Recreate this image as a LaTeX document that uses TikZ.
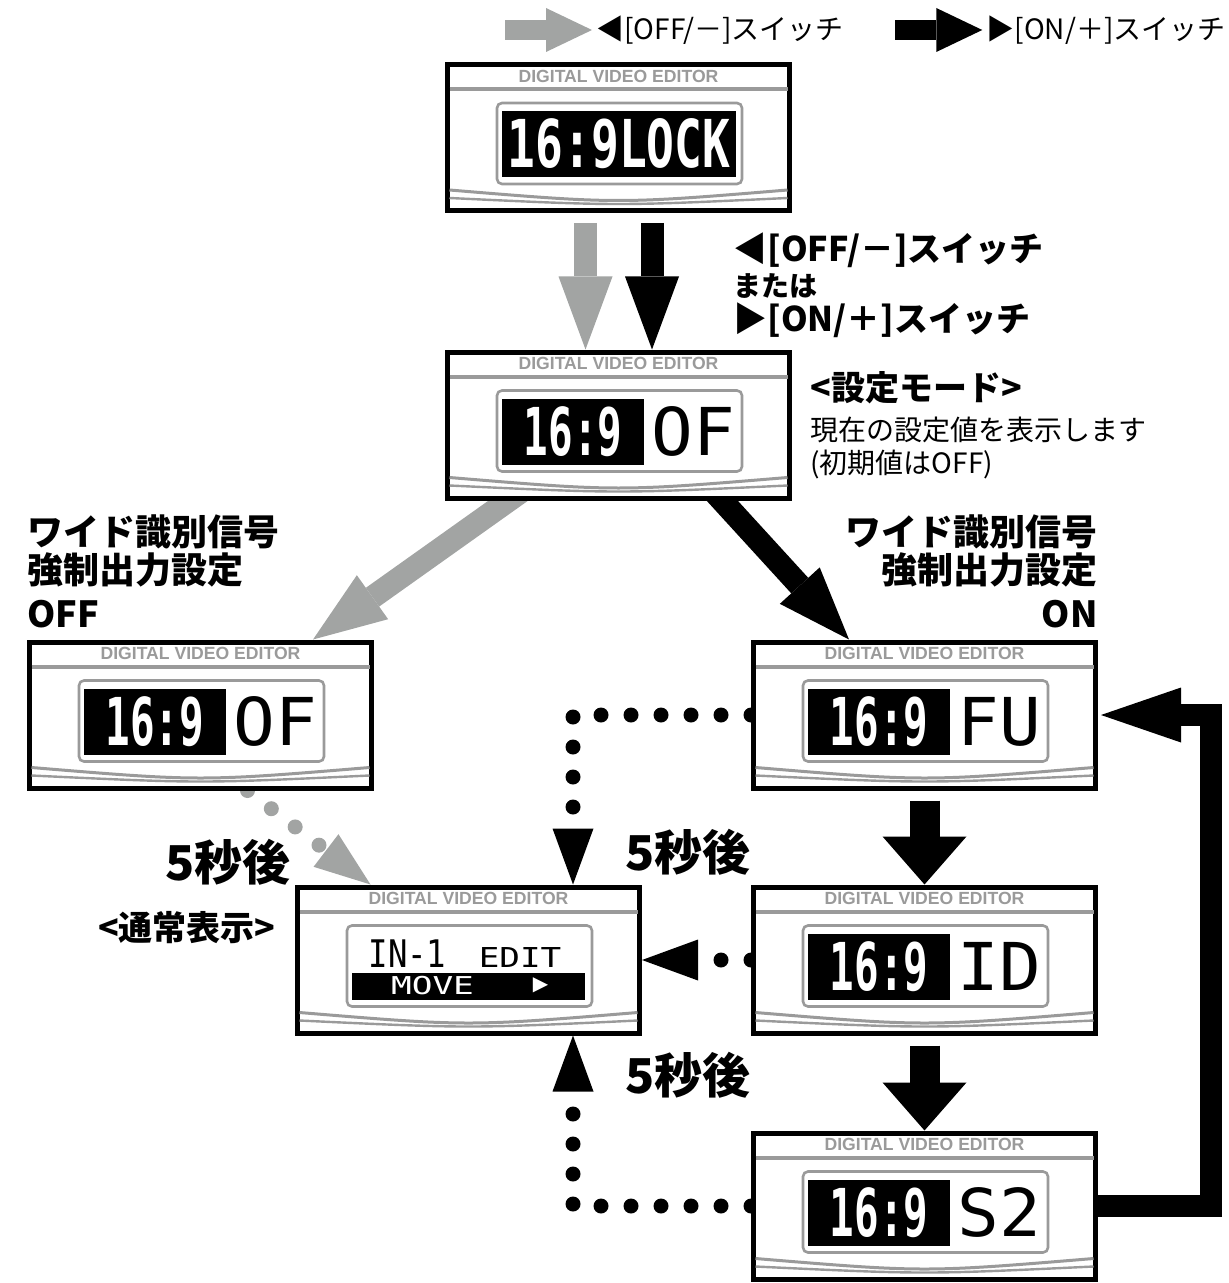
\documentclass[tikz,border=0pt]{standalone}
\usepackage{fontspec}
\usepackage{graphicx}
\setmainfont{Noto Sans CJK JP}
\newfontfamily\lcdfont{DejaVu Sans Mono}
\newfontfamily\brandfont{Liberation Sans}
\newfontfamily\symfont{DejaVu Sans}
\usepackage{tikz}
\usetikzlibrary{positioning,arrows.meta,calc}
\usepackage{xcolor}
\definecolor{ArrowGray}{HTML}{A2A4A3}
\definecolor{PanelGray}{HTML}{9A9A9A}
\pgfdeclarelayer{background}
\pgfsetlayers{background,main}

\tikzset{
  panelbox/.style={draw,line width=2.5pt,fill=white,minimum width=171pt,minimum height=73pt,inner sep=0pt},
  brand/.style={text=PanelGray,inner sep=0pt,font=\brandfont\bfseries\fontsize{8.8}{8.8}\selectfont},
  lcdinv/.style={fill=black,text=white,inner sep=0pt,minimum width=71pt,minimum height=33pt,font=\lcdfont\bfseries\fontsize{33}{33}\selectfont},
  lcdtext/.style={inner sep=0pt,font=\lcdfont\fontsize{33}{33}\selectfont},
  legend/.style={inner sep=0pt,font=\fontsize{14}{14}\selectfont},
  boldlabel/.style={inner sep=0pt,font=\bfseries\fontsize{17}{17.5}\selectfont},
  bigbold/.style={inner sep=0pt,font=\bfseries\fontsize{18}{19}\selectfont},
  delay/.style={inner sep=0pt,font=\bfseries\fontsize{24}{24}\selectfont},
  note/.style={inner sep=0pt,align=left,font=\fontsize{14}{16.5}\selectfont},
  legendgray/.style={ArrowGray,line width=10pt,-{Triangle[length=23pt,width=22pt,line width=0pt]}},
  legendblack/.style={black,line width=10pt,-{Triangle[length=23pt,width=22pt,line width=0pt]}},
  grayflow/.style={ArrowGray,line width=11.5pt,-{Triangle[length=36.5pt,width=27pt,line width=0pt]}},
  blackflow/.style={black,line width=11.5pt,-{Triangle[length=36.5pt,width=27pt,line width=0pt]}},
  stepflow/.style={black,line width=15pt,-{Triangle[length=24pt,width=42pt,line width=0pt]}},
  loopflow/.style={black,line width=11pt,line join=miter,-{Triangle[length=40pt,width=27.5pt,line width=0pt]}},
  dotflow/.style={line width=7.5pt,line cap=round,dash pattern=on 0pt off 15pt,-{Triangle[length=28pt,width=20.5pt,line width=0pt]}},
}

% one editor panel: frame, brand line, window, bottom rims
\newcommand{\dvepanel}[2]{%
  \node[panelbox] (#1) at (#2) {};
  \begin{scope}[shift={(#1.center)}]
    \node[brand] (#1-brand) at (0,-61.5) {DIGITAL VIDEO EDITOR};
    \draw[PanelGray,line width=2pt] (-169,-48.5) -- (169,-48.5);
    \draw[PanelGray,line width=1.3pt,rounded corners=2.5pt] (-121.5,-34.5) rectangle (123.5,46.5);
    \draw[PanelGray,line width=1.5pt] (-169,52.5) .. controls (0,66.5) .. (169,52.5);
    \draw[PanelGray,line width=1.2pt] (-169,60.5) .. controls (0,68.5) .. (169,60.5);
  \end{scope}}
% 16:9 readout with a value
\newcommand{\ratiolcd}[2]{%
  \node[lcdinv] (#1-ratio) at ($(#1)+(-45.5,6.5)$) {\scalebox{0.62}[1]{16:9}};
  \node[lcdtext] (#1-value) at ($(#1)+(74.5,6.5)$) {\scalebox{1.05}[1]{#2}};}

\begin{document}
\begin{tikzpicture}[x=0.5pt,y=-0.5pt]
\useasboundingbox (0,0) rectangle (1228,1283);

% legend
\node[legend,anchor=west] (legoff) at (596,30) {◀[OFF/－]スイッチ};
\node[legend,anchor=east] (legon) at (1226,30) {▶[ON/＋]スイッチ};
\draw[legendgray] ($(legoff.west)+(-91,0)$) -- ($(legoff.west)+(-4,0)$);
\draw[legendblack] ($(legon.west)+(-91,0)$) -- ($(legon.west)+(-4,0)$);

% panels
\dvepanel{lock}{618.5,137.5}
\node[lcdinv,minimum width=117pt] (lock-lcd) at ($(lock)+(0.5,6.5)$) {\scalebox{0.7}[1]{16:9LOCK}};
\dvepanel{setmode}{618.5,425}
\ratiolcd{setmode}{OF}
\dvepanel{off}{200.5,715}
\ratiolcd{off}{OF}
\dvepanel{fu}{924.5,715}
\ratiolcd{fu}{FU}
\dvepanel{id}{924.5,960}
\ratiolcd{id}{ID}
\dvepanel{s2}{924.5,1206}
\ratiolcd{s2}{S2}
\dvepanel{normal}{468.5,960}
\node[lcdtext,font=\lcdfont\fontsize{19}{19}\selectfont] (normal-in) at ($(normal)+(-61,-6.5)$) {\scalebox{0.85}[1]{IN-1}};
\node[lcdtext,font=\lcdfont\fontsize{13.7}{13.7}\selectfont] (normal-edit) at ($(normal)+(51.5,-2.5)$) {\scalebox{1.25}[1]{EDIT}};
\node[fill=black,inner sep=0pt,minimum width=116.5pt,minimum height=13.5pt] (normal-bar) at ($(normal)+(0,26)$) {};
\node[lcdtext,text=white,font=\lcdfont\fontsize{12.3}{12.3}\selectfont] (normal-move) at ($(normal)+(-36,25.5)$) {\scalebox{1.4}[1]{MOVE}};
\node[inner sep=0pt,text=white,font=\symfont\fontsize{10}{10}\selectfont] (normal-play) at ($(normal)+(72,25.5)$) {▶};

% labels
\node[boldlabel,align=left,anchor=north west] (switchlbl) at (733,232)
  {◀[OFF/－]スイッチ\\{\fontsize{14}{14}\selectfont または}\\▶[ON/＋]スイッチ};
\node[boldlabel,anchor=west] (modettl) at (810,388) {<設定モード>};
\node[note,anchor=north west] (modenote) at (810,417) {現在の設定値を表示します\\(初期値はOFF)};
\node[bigbold,align=left,anchor=north west] (wideoff) at (27,514) {ワイド識別信号\\強制出力設定\\[3pt]OFF};
\node[bigbold,align=right,anchor=north east] (wideon) at (1098,514) {ワイド識別信号\\強制出力設定\\[3pt]ON};
\node[boldlabel,anchor=east] (normalttl) at (276,928) {<通常表示>};
\node[delay] (delayoff) at (228,862) {5秒後};
\node[delay] (delayfu) at (688,852) {5秒後};
\node[delay] (delayid) at (688,1075) {5秒後};

% connectors
\coordinate (offgo) at ($(setmode.south)+(-110,0)$);
\coordinate (offin) at ($(off.north)+(112.5,0)$);
\coordinate (fugo) at ($(setmode.south)+(103.5,0)$);
\coordinate (fuin) at ($(fu.north)+(-75.5,0)$);
\begin{pgfonlayer}{background}
\draw[grayflow] ($(lock.south)+(-33,10)$) -- ($(setmode.north)+(-33,0)$);
\draw[blackflow] ($(lock.south)+(33.5,10)$) -- ($(setmode.north)+(33.5,0)$);
\draw[grayflow] ($(offgo)!-12pt!(offin)$) -- (offin);
\draw[blackflow] ($(fugo)!-12pt!(fuin)$) -- (fuin);
\draw[stepflow] ($(fu.south)+(0,10)$) -- (id.north);
\draw[stepflow] ($(id.south)+(0,10)$) -- (s2.north);
\draw[loopflow] ($(s2.east)+(-10,0)$) -- ++(123,0) |- ($(fu.east)+(3,0)$);
\draw[dotflow,ArrowGray] ($(off.south)+(47,0)$) -- ($(normal.north)+(-98,0)$);
\draw[dotflow] (fu.west) -| ($(normal.north)+(104.5,0)$);
\draw[dotflow] (id.west) -- (normal.east);
\draw[dotflow] (s2.west) -| ($(normal.south)+(104.5,0)$);
\end{pgfonlayer}
\end{tikzpicture}
\end{document}
